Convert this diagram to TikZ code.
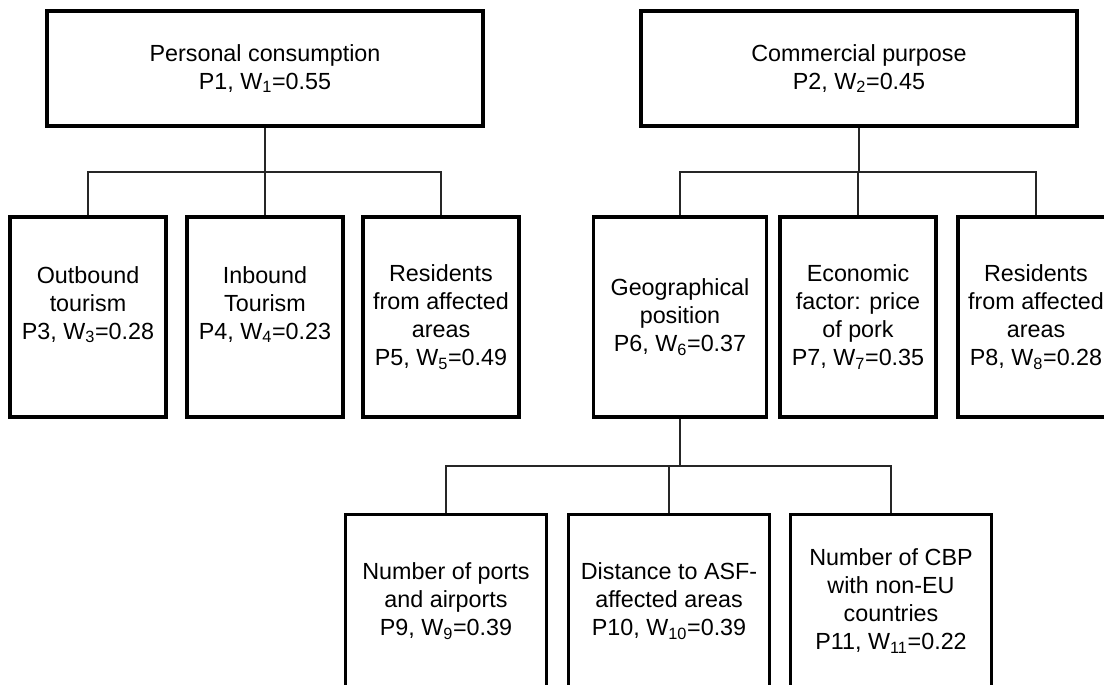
\documentclass[tikz,border=0pt]{standalone}
\usepackage{fontspec}
\setmainfont{Liberation Sans}
\usepackage{tikz}

\tikzset{
  crit/.style={draw, line width=2.6pt, inner sep=0pt, align=center,
    font=\fontsize{17.5}{21}\selectfont},
  top/.style={crit, minimum width=327pt, minimum height=86pt},
  mid/.style={crit, minimum width=117pt, minimum height=150pt},
  low/.style={crit, minimum width=151pt, minimum height=130pt},
  link/.style={line width=0.8pt, black!85}
}

\begin{document}
\begin{tikzpicture}[x=0.75pt,y=-0.75pt]
  \clip (0,0) rectangle (1104,685);
  \fill[white] (0,0) rectangle (1104,685);
  \node[top] (p1) at (265,68.5) {Personal consumption\\P1, W\textsubscript{1}=0.55};
  \node[top] (p2) at (859,68.5) {Commercial purpose\\P2, W\textsubscript{2}=0.45};
  \node[mid] (p3) at (88,317) {Outbound\\tourism\\P3, W\textsubscript{3}=0.28\\~};
  \node[mid] (p4) at (265,317) {Inbound\\Tourism\\P4, W\textsubscript{4}=0.23\\~};
  \node[mid] (p5) at (441,317) {Residents\\from affected\\areas\\P5, W\textsubscript{5}=0.49};
  \node[mid, minimum width=130pt] (p6) at (680,317) {Geographical\\position\\P6, W\textsubscript{6}=0.37};
  \node[mid] (p7) at (858,317) {Economic\\factor: price\\of pork\\P7, W\textsubscript{7}=0.35};
  \node[mid] (p8) at (1036,317) {Residents\\from affected\\areas\\P8, W\textsubscript{8}=0.28};
  \node[low] (p9) at (446,601) {Number of ports\\and airports\\P9, W\textsubscript{9}=0.39};
  \node[low] (p10) at (669,601) {Distance to ASF-\\affected areas\\P10, W\textsubscript{10}=0.39};
  \node[low] (p11) at (891,601) {Number of CBP\\with non-EU\\countries\\P11, W\textsubscript{11}=0.22};
  \coordinate (j1) at (265,172);
  \coordinate (j2) at (859,172);
  \coordinate (j3) at (680,466);
  \draw[link] (p1.south) -- (j1);
  \draw[link] (p3.north) |- (j1) -| (p5.north);
  \draw[link] (p4.north) -- (p4.north |- j1);
  \draw[link] (p2.south) -- (j2);
  \draw[link] (p6.north) |- (j2) -| (p8.north);
  \draw[link] (p7.north) -- (p7.north |- j2);
  \draw[link] (p6.south) -- (j3);
  \draw[link] (p9.north) |- (j3) -| (p11.north);
  \draw[link] (p10.north) -- (p10.north |- j3);
\end{tikzpicture}
\end{document}
